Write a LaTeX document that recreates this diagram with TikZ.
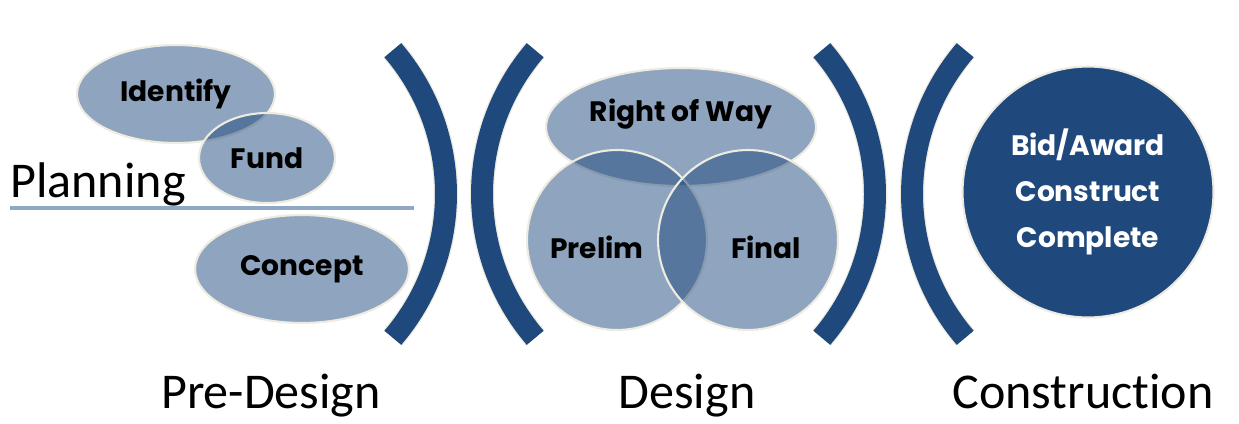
\documentclass[tikz,border=0pt]{standalone}
\usepackage{fontspec}
\setmainfont{Carlito}[Ligatures=NoCommon]
\newfontfamily\gothic{Poppins}
\usetikzlibrary{shapes.geometric}
\definecolor{navy}{HTML}{1F497D}
\definecolor{cream}{HTML}{EEECE1}
\definecolor{steel}{HTML}{8FA8C6}

\tikzset{
  bubble/.style={ellipse,fill=navy,fill opacity=0.5,text opacity=1,draw=cream,line width=1.2pt,inner sep=0pt},
  tag/.style={font=\gothic\bfseries\fontsize{16}{19}\selectfont,text=black},
  phase/.style={font=\fontsize{28.5}{34}\selectfont,anchor=base,inner sep=0pt},
  curve/.style={line width=12.5pt,draw=navy},
  curveedge/.style={line width=14pt,draw=cream},
}

\begin{document}
\begin{tikzpicture}[x=0.02cm,y=-0.02cm]
\useasboundingbox (0,0) rectangle (1239,423);

% pre-design bubbles
\node[bubble,tag,minimum width=3.96cm,minimum height=1.96cm] (identify) at (176,94) {Identify};
\node[bubble,tag,minimum width=2.72cm,minimum height=1.8cm] (fund) at (267,158) {Fund};
\node[bubble,tag,minimum width=4.28cm,minimum height=2.16cm] (concept) at (302,269) {Concept};
\node[phase,anchor=base west] (planning) at (10,197) {Planning};
\coordinate (rulestart) at (10,208);
\coordinate (ruleend) at (414,208);
\draw[steel,line width=2.2pt] (rulestart) -- (ruleend);

% brackets
\foreach \cx/\sa/\ea in {225/-40.6/40.6, 703/220.6/139.4, 654/-40.6/40.6, 1133/220.6/139.4}{
  \draw[curveedge] (\cx,194) ++(\sa:221) arc[start angle=\sa,end angle=\ea,radius=221];
  \draw[curve] (\cx,194) ++(\sa:221) arc[start angle=\sa,end angle=\ea,radius=221];
}

% design venn
\node[bubble,minimum width=5.4cm,minimum height=2.36cm] (row) at (681,127) {};
\node[bubble,circle,minimum size=3.6cm] (prelim) at (617,240) {};
\node[bubble,circle,minimum size=3.6cm] (final) at (748,240) {};
\node[tag] (rowtext) at (681,114) {Right of Way};
\node[tag] (prelimtext) at (597,247) {Prelim};
\node[tag] (finaltext) at (766,247) {Final};

% construction
\node[circle,fill=navy,draw=cream,line width=1.2pt,minimum size=5.02cm,align=center,
  font=\gothic\bfseries\fontsize{16}{26}\selectfont,text=white] (build) at (1088,192)
  {Bid/Award\\Construct\\Complete};

% phase names
\node[phase] (predesign) at (271,408) {Pre-Design};
\node[phase] (design) at (687,408) {Design};
\node[phase] (construction) at (1083,408) {Construction};
\end{tikzpicture}
\end{document}
